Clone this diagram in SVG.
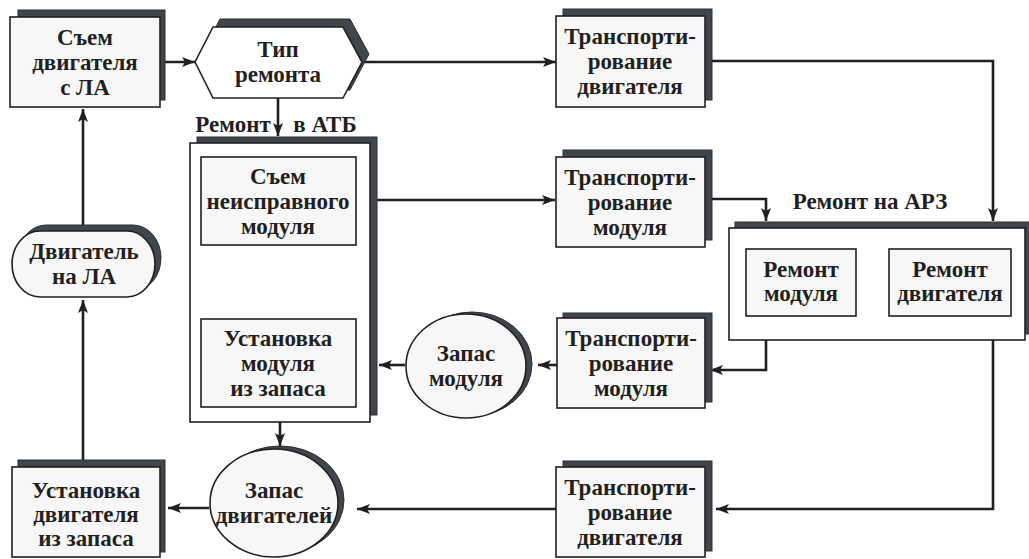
<svg xmlns="http://www.w3.org/2000/svg" width="1029" height="559" viewBox="0 0 1029 559">
<defs>
<style>
.sh{fill:#40464b;stroke:#2a2e31;stroke-width:1}
.bx{fill:#f7f7f7;stroke:#231f20;stroke-width:1.6}
.wb{fill:#ffffff;stroke:#231f20;stroke-width:1.6}
.t{font-family:"Liberation Serif","Times New Roman",serif;font-weight:bold;font-size:23px;fill:#231f20;text-anchor:middle}
.c{fill:none;stroke:#231f20;stroke-width:2.6;marker-end:url(#ah)}
</style>
<marker id="ah" markerUnits="userSpaceOnUse" markerWidth="14" markerHeight="10" refX="13" refY="5" orient="auto">
<path d="M0,0 L13,5 L0,10 L3,5 z" fill="#231f20"/>
</marker>
</defs>
<rect width="1029" height="559" fill="#ffffff"/>

<g id="connectors">
<path class="c" d="M160,62 H195"/>
<path class="c" d="M362,62 H556"/>
<path class="c" d="M278,98 V136"/>
<path class="c" d="M705,61 H993 V221"/>
<path class="c" d="M356,200 H555"/>
<path class="c" d="M705,199 H766 V221"/>
<path class="c" d="M278,245 V317"/>
<path class="c" d="M766,316 V370 H710"/>
<path class="c" d="M557,365 H538"/>
<path class="c" d="M405,365 H379"/>
<path class="c" d="M993,316 V509 H716"/>
<path class="c" d="M556,509 H357"/>
<path class="c" d="M280,407 V446"/>
<path class="c" d="M209,508 H168"/>
<path class="c" d="M83,467 V300"/>
<path class="c" d="M83,231 V109"/>
</g>

<g id="n-sem-dvig">
<rect class="sh" x="18" y="10" width="147" height="90"/>
<rect class="bx" x="10" y="17" width="150" height="90"/>
<text class="t" x="85" y="45">Съем</text>
<text class="t" x="85" y="70">двигателя</text>
<text class="t" x="85" y="95">с ЛА</text>
</g>

<g id="n-tip">
<polygon class="sh" points="202,54 220,19 350,19 369,54 350,90 220,90"/>
<polygon class="wb" points="195,62 213,27 343,27 362,62 343,98 213,98"/>
<text class="t" x="278" y="57">Тип</text>
<text class="t" x="278" y="82">ремонта</text>
</g>

<g id="n-trans-dvig-top">
<rect class="sh" x="563" y="9" width="149" height="91"/>
<rect class="bx" x="556" y="16" width="149" height="91"/>
<text class="t" x="630" y="44">Транспорти-</text>
<text class="t" x="630" y="69">рование</text>
<text class="t" x="630" y="94">двигателя</text>
</g>

<g id="n-atb">
<rect class="sh" x="197" y="137" width="180" height="278"/>
<rect class="wb" x="190" y="143" width="180" height="279"/>
<text class="t" x="233" y="132">Ремонт</text>
<text class="t" x="325" y="132">в АТБ</text>
</g>

<g id="n-sem-mod">
<rect class="bx" x="201" y="157" width="155" height="88"/>
<text class="t" x="278" y="184">Съем</text>
<text class="t" x="278" y="209">неисправного</text>
<text class="t" x="278" y="234">модуля</text>
</g>

<g id="n-ust-mod">
<rect class="bx" x="201" y="319" width="155" height="88"/>
<text class="t" x="278" y="346">Установка</text>
<text class="t" x="278" y="371">модуля</text>
<text class="t" x="278" y="396">из запаса</text>
</g>

<g id="n-trans-mod-up">
<rect class="sh" x="563" y="150" width="149" height="90"/>
<rect class="bx" x="556" y="157" width="149" height="90"/>
<text class="t" x="630" y="185">Транспорти-</text>
<text class="t" x="630" y="210">рование</text>
<text class="t" x="630" y="235">модуля</text>
</g>

<g id="n-arz">
<rect class="sh" x="735" y="222" width="296" height="112"/>
<rect class="wb" x="729" y="228" width="296" height="112"/>
<text class="t" x="870" y="209">Ремонт на АРЗ</text>
</g>

<g id="n-rem-mod">
<rect class="bx" x="746" y="249" width="110" height="67"/>
<text class="t" x="801" y="277">Ремонт</text>
<text class="t" x="801" y="301">модуля</text>
</g>

<g id="n-rem-dvig">
<rect class="bx" x="889" y="249" width="122" height="67"/>
<text class="t" x="950" y="277">Ремонт</text>
<text class="t" x="950" y="301">двигателя</text>
</g>

<g id="n-trans-mod-mid">
<rect class="sh" x="563" y="313" width="149" height="89"/>
<rect class="bx" x="557" y="318" width="148" height="90"/>
<text class="t" x="631" y="346">Транспорти-</text>
<text class="t" x="631" y="371">рование</text>
<text class="t" x="631" y="396">модуля</text>
</g>

<g id="n-zapas-mod">
<ellipse class="sh" cx="472" cy="364" rx="60" ry="52"/>
<ellipse class="bx" cx="466" cy="366" rx="60" ry="52"/>
<text class="t" x="466" y="361">Запас</text>
<text class="t" x="466" y="386">модуля</text>
</g>

<g id="n-dvig-la">
<rect class="sh" x="18" y="225" width="143" height="66" rx="28" ry="33"/>
<rect class="bx" x="12" y="231" width="143" height="66" rx="28" ry="33"/>
<text class="t" x="84" y="259">Двигатель</text>
<text class="t" x="84" y="284">на ЛА</text>
</g>

<g id="n-zapas-dvig">
<ellipse class="sh" cx="280" cy="500" rx="64" ry="54"/>
<ellipse class="bx" cx="274" cy="503" rx="64" ry="54"/>
<text class="t" x="274" y="498">Запас</text>
<text class="t" x="274" y="523">двигателей</text>
</g>

<g id="n-ust-dvig">
<rect class="sh" x="18" y="460" width="147" height="92"/>
<rect class="bx" x="12" y="467" width="148" height="90"/>
<text class="t" x="86" y="498">Установка</text>
<text class="t" x="86" y="522">двигателя</text>
<text class="t" x="86" y="546">из запаса</text>
</g>

<g id="n-trans-dvig-bot">
<rect class="sh" x="563" y="461" width="149" height="90"/>
<rect class="bx" x="556" y="467" width="149" height="90"/>
<text class="t" x="630" y="495">Транспорти-</text>
<text class="t" x="630" y="520">рование</text>
<text class="t" x="630" y="545">двигателя</text>
</g>
</svg>
